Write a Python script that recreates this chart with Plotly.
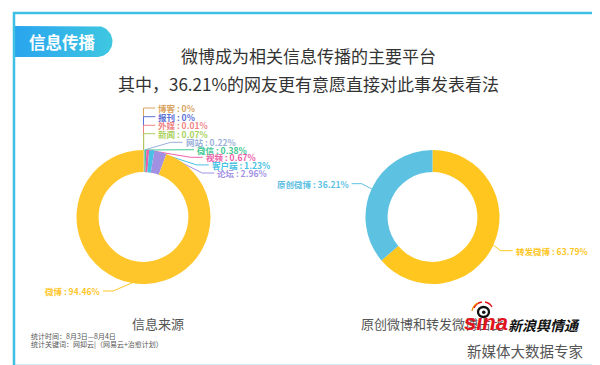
import numpy as np
import plotly.graph_objects as go

W, H = 600, 365

# ---------------- data ----------------
src_labels = ["博客", "报刊", "外媒", "新闻", "网站", "微信", "视频", "客户端", "论坛", "微博"]
src_values = [0, 0, 0.01, 0.07, 0.22, 0.38, 0.67, 1.23, 2.96, 94.46]
src_colors = ["#D9A35E", "#5B70D8", "#EF8686", "#AAD15C", "#9BB0DA",
              "#40C994", "#EE60A8", "#47C2E4", "#A291E3", "#FFC62B"]

type_labels = ["转发微博", "原创微博"]
type_values = [63.79, 36.21]
type_colors = ["#FEC61E", "#5DC1E2"]

title_lines = ["微博成为相关信息传播的主要平台", "其中，36.21%的网友更有意愿直接对此事发表看法"]
sub_titles = ["信息来源", "原创微博和转发微博占比"]
stat_lines = ["统计时间：8月3日—8月4日", "统计关键词：网抑云|（网易云+治愈计划）"]

# ---------------- layout parameters ----------------
FONT = "Noto Sans CJK SC, sans-serif"
pies = [
    dict(cx=135.5, cy=209, R=67, labels=src_labels, values=src_values, colors=src_colors),
    dict(cx=424.5, cy=209, R=67, labels=type_labels, values=type_values, colors=type_colors),
]
HOLE = 0.67

# label text placement (x, y, side) ; 'top' = vertical leader, 'l'/'r' = elbow leader
label_pos = {
    "博客": (149.3, 100.0, "top"),
    "报刊": (149.3, 108.7, "top"),
    "外媒": (149.3, 117.3, "top"),
    "新闻": (149.3, 125.7, "top"),
    "网站": (176.7, 134.3, "r"),
    "微信": (188.0, 141.7, "r"),
    "视频": (196.7, 149.3, "r"),
    "客户端": (202.7, 156.9, "r"),
    "论坛": (208.3, 165.0, "r"),
    "微博": (93.0, 283.0, "l"),
    "转发微博": (506.7, 242.7, "r"),
    "原创微博": (341.7, 175.7, "l"),
}

fig = go.Figure()

# badge with gradient
t = np.linspace(-np.pi / 2, np.pi / 2, 40)
bx = [5, 89] + list(89 + 15.5 * np.cos(t)) + [89, 5, 5]
by = [18, 18] + list(33.5 + 15.5 * np.sin(t)) + [49, 49, 18]
fig.add_trace(go.Scatter(
    x=bx, y=by, mode="lines", fill="toself", line=dict(width=0),
    fillgradient=dict(type="horizontal", colorscale=[[0, "#29A4EF"], [1, "#3FC7E1"]]),
    hoverinfo="skip", showlegend=False))

annotations = []

for p in pies:
    cx, cy, R = p["cx"], p["cy"], p["R"]
    fig.add_trace(go.Pie(
        labels=p["labels"], values=p["values"], sort=False,
        direction="clockwise", rotation=0, hole=HOLE,
        marker=dict(colors=p["colors"], line=dict(width=0)),
        textinfo="none", hoverinfo="label+percent", showlegend=False,
        domain=dict(x=[(cx - R) / W, (cx + R) / W],
                    y=[(H - cy - R) / H, (H - cy + R) / H])))
    total = float(sum(p["values"]))
    cum = 0.0
    for lab, val, col in zip(p["labels"], p["values"], p["colors"]):
        mid = (cum + val / 2) / total * 2 * np.pi
        cum += val
        ax = cx + R * np.sin(mid)
        ay = cy - R * np.cos(mid)
        tx, ty, side = label_pos[lab]
        if side == "top":
            lx = [ax, ax, tx - 2]
            ly = [ay, ty, ty]
            xanchor = "left"
        elif side == "r":
            lx = [ax, tx - 14, tx - 2]
            ly = [ay, ty, ty]
            xanchor = "left"
        else:
            lx = [ax, tx + 12, tx + 2]
            ly = [ay, ty, ty]
            xanchor = "right"
        fig.add_trace(go.Scatter(x=lx, y=ly, mode="lines", line=dict(color=col, width=1),
                                 hoverinfo="skip", showlegend=False))
        pct = f"{val:.2f}".rstrip("0").rstrip(".")
        annotations.append(dict(
            x=tx, y=ty, xref="x", yref="y", xanchor=xanchor, yanchor="middle",
            text=f"<b>{lab} : {pct}%</b>", showarrow=False, borderpad=0,
            font=dict(size=8.5, color=col, family=FONT)))

# badge text
annotations.append(dict(x=54, y=34, xref="x", yref="y", text="<b>信息传播</b>", showarrow=False,
                        font=dict(size=16.5, color="white", family=FONT)))
# titles
for txt, yy in zip(title_lines, [47, 75]):
    annotations.append(dict(x=300, y=yy, xref="x", yref="y", text=txt, showarrow=False,
                            font=dict(size=17, color="#333333", family=FONT)))
# subtitles
for txt, xx in zip(sub_titles, [150, 424.5]):
    annotations.append(dict(x=xx, y=315, xref="x", yref="y", text=txt, showarrow=False,
                            font=dict(size=13, color="#555555", family=FONT)))
# stats
for txt, yy in zip(stat_lines, [327.5, 335.5]):
    annotations.append(dict(x=21.5, y=yy, xref="x", yref="y", xanchor="left", text=txt,
                            showarrow=False, borderpad=0,
                            font=dict(size=7, color="#555555", family=FONT)))

# logo
annotations.append(dict(x=499, y=317, xref="x", yref="y", xanchor="left", text="<b><i>新浪舆情通</i></b>",
                        showarrow=False, bgcolor="white", borderpad=0,
                        font=dict(size=14, color="#111111", family=FONT)))
annotations.append(dict(x=455, y=314, xref="x", yref="y", xanchor="left", text="<b><i>sına</i></b>",
                        showarrow=False, borderpad=0,
                        font=dict(size=22, color="#E2141E", family="Liberation Sans, Arial")))
annotations.append(dict(x=517, y=342, xref="x", yref="y", text="新媒体大数据专家", showarrow=False,
                        font=dict(size=14.5, color="#555555", family=FONT)))

shapes = [
    dict(type="rect", xref="x", yref="y", x0=6, y0=5, x1=596.5, y1=358,
         line=dict(color="#3DC0E4", width=2.5), fillcolor="rgba(0,0,0,0)", layer="above"),
    # eye of logo
    dict(type="circle", xref="x", yref="y", x0=470, y0=299, x1=481, y1=309,
         line=dict(color="#111111", width=2.3), fillcolor="white", layer="above"),
    dict(type="circle", xref="x", yref="y", x0=474, y0=302.5, x1=477.5, y1=306,
         line=dict(width=0), fillcolor="#111111", layer="above"),
    dict(type="path", xref="x", yref="y", path="M 466 300 Q 468 295 474 294", line=dict(color="#E2141E", width=1.6), layer="above"),
    dict(type="path", xref="x", yref="y", path="M 464 303 Q 465 297 470 295", line=dict(color="#F08A00", width=1.3), layer="above"),
    dict(type="path", xref="x", yref="y", path="M 477 294 Q 482 295 484 299", line=dict(color="#E2141E", width=1.3), layer="above"),
]

fig.update_layout(
    width=W, height=H, margin=dict(l=0, r=0, t=0, b=0),
    paper_bgcolor="white", plot_bgcolor="white",
    xaxis=dict(range=[0, W], visible=False, domain=[0, 1], fixedrange=True),
    yaxis=dict(range=[H, 0], visible=False, domain=[0, 1], fixedrange=True),
    annotations=annotations, shapes=shapes, showlegend=False,
)

fig.write_html("out.html")
